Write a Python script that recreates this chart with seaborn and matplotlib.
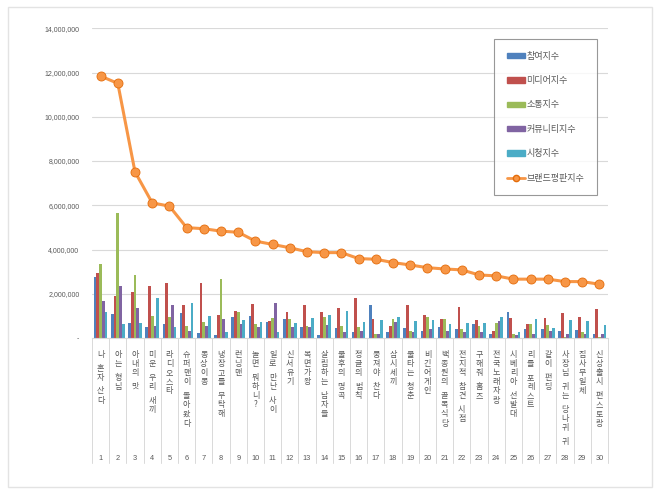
import numpy as np
import pandas as pd
import matplotlib
matplotlib.use("Agg")
import matplotlib.pyplot as plt
from matplotlib.patches import Patch, Rectangle
from matplotlib.lines import Line2D
from matplotlib.ticker import FuncFormatter
import seaborn as sns

# Programs, in rank order
SHOWS = [
    "나 혼자 산다", "아는 형님", "아내의 맛", "미운 우리 새끼", "라디오스타",
    "슈퍼맨이 돌아왔다", "동상이몽", "냉장고를 부탁해", "런닝맨", "놀면 뭐하니?",
    "일로 만난 사이", "신서유기", "복면가왕", "살림하는 남자들", "불후의 명곡",
    "정글의 법칙", "뭉쳐야 찬다", "삼시세끼", "불타는 청춘", "비긴어게인",
    "백종원의 골목식당", "전지적 참견 시점", "구해줘 홈즈", "전국노래자랑", "시베리아 선발대",
    "리틀 포레스트", "같이 펀딩", "사장님 귀는 당나귀 귀", "집사부일체", "신상출시 편스토랑",
]
RANKS = [str(i) for i in range(1, 31)]

SERIES = ["참여지수", "미디어지수", "소통지수", "커뮤니티지수", "시청지수"]
LINE_NAME = "브랜드평판지수"

participation = [2760000, 1100000, 660000, 510000, 630000, 1120000, 220000, 130000, 970000, 1000000,
                 730000, 860000, 480000, 130000, 440000, 260000, 1490000, 260000, 440000, 330000,
                 480000, 400000, 630000, 180000, 1160000, 400000, 400000, 330000, 360000, 180000]
media = [2960000, 1900000, 2100000, 2330000, 2480000, 1490000, 2480000, 1050000, 1200000, 1530000,
         780000, 1160000, 1500000, 1160000, 1340000, 1830000, 860000, 560000, 1500000, 1060000,
         860000, 1400000, 820000, 330000, 890000, 630000, 900000, 1140000, 930000, 1300000]
communication = [3360000, 5660000, 2840000, 1000000, 960000, 550000, 730000, 2660000, 1170000, 630000,
                 890000, 860000, 560000, 960000, 560000, 510000, 200000, 860000, 300000, 950000,
                 860000, 400000, 520000, 700000, 200000, 630000, 580000, 50000, 260000, 50000]
community = [1670000, 2330000, 1340000, 550000, 1500000, 300000, 550000, 840000, 630000, 480000,
             1580000, 480000, 480000, 590000, 290000, 320000, 180000, 730000, 260000, 400000,
             330000, 260000, 260000, 780000, 150000, 200000, 330000, 180000, 170000, 200000]
viewing = [1170000, 620000, 660000, 1800000, 480000, 1580000, 1000000, 270000, 800000, 730000,
           260000, 700000, 890000, 1040000, 1230000, 730000, 800000, 960000, 780000, 800000,
           630000, 700000, 700000, 960000, 260000, 860000, 440000, 800000, 780000, 580000]
brand = [11840000, 11510000, 7510000, 6110000, 5960000, 4990000, 4940000, 4830000, 4780000, 4380000,
         4230000, 4080000, 3900000, 3860000, 3860000, 3590000, 3560000, 3410000, 3300000, 3180000,
         3120000, 3080000, 2850000, 2810000, 2660000, 2660000, 2660000, 2550000, 2550000, 2430000]

BAR_COLORS = ["#4F81BD", "#C0504D", "#9BBB59", "#8064A2", "#4BACC6"]
LINE_COLOR = "#F79646"
GRID = "#D9D9D9"
TEXT = "#595959"

sns.set_theme(style="white")
plt.rcParams["font.family"] = ["Noto Sans CJK KR", "DejaVu Sans"]

bars = pd.DataFrame({
    "show": SHOWS * 5,
    "series": np.repeat(SERIES, len(SHOWS)),
    "value": participation + media + communication + community + viewing,
})
line = pd.DataFrame({"show": SHOWS, "value": brand})

fig = plt.figure(figsize=(6.6, 4.96), dpi=100)
ax = fig.add_axes([92 / 660, (496 - 338) / 496, 516 / 660, (338 - 28.3) / 496])

# outer chart border
fig.patches.append(Rectangle((8 / 660, 9 / 496), 644 / 660, 480 / 496, transform=fig.transFigure,
                             fill=False, edgecolor="#E3E3E3", linewidth=1.0))

sns.barplot(data=bars, x="show", y="value", hue="series", order=SHOWS, hue_order=SERIES,
            palette=BAR_COLORS, width=0.8, saturation=1, errorbar=None, legend=False,
            linewidth=0, ax=ax, zorder=2)
sns.pointplot(data=line, x="show", y="value", order=SHOWS, color=LINE_COLOR,
              marker="o", markersize=6.5, linewidth=2.2, markeredgecolor="#E46C0A",
              markeredgewidth=0.6, errorbar=None, ax=ax, zorder=4)

ax.set_xlim(-0.5, len(SHOWS) - 0.5)
ax.set_ylim(0, 14000000)
ax.set_yticks(np.arange(0, 14000001, 2000000))
ax.yaxis.set_major_formatter(FuncFormatter(lambda v, _: "-" if v == 0 else f"{v:,.0f}"))
ax.tick_params(axis="y", length=0, pad=9, labelsize=5, labelcolor=TEXT)
for t in ax.get_yticklabels():
    t.set_family(["Liberation Sans", "DejaVu Sans"])
ax.set_xticks([])
ax.set_xlabel("")
ax.set_ylabel("")
ax.grid(axis="y", color=GRID, linewidth=0.8, zorder=0)
ax.set_axisbelow(True)
for side in ["top", "right", "left"]:
    ax.spines[side].set_visible(False)
ax.spines["bottom"].set_color(GRID)
ax.spines["bottom"].set_linewidth(0.8)

# category separators spanning both label levels
trans = ax.get_xaxis_transform()
for b in np.arange(-0.5, len(SHOWS)):
    ax.plot([b, b], [0, -0.405], transform=trans, color=GRID, linewidth=0.7, clip_on=False)

# stacked vertical names + rank numbers
char_step, space_step = 6.6, 3.3
for i, name in enumerate(SHOWS):
    off = 8.5
    for ch in name:
        if ch == " ":
            off += space_step
            continue
        ax.annotate(ch, xy=(i, 0), xycoords=trans, xytext=(0, -off), textcoords="offset points",
                    ha="center", va="top", fontsize=5.8, color=TEXT)
        off += char_step
    ax.annotate(RANKS[i], xy=(i, 0), xycoords=trans, xytext=(0, -87), textcoords="offset points",
                ha="center", va="center", fontsize=5.3, color=TEXT,
                family=["Liberation Sans", "DejaVu Sans"])

handles = [Patch(facecolor=c, edgecolor=c) for c in BAR_COLORS]
handles.append(Line2D([], [], color=LINE_COLOR, linewidth=2, marker="o", markersize=4.5,
                      markeredgecolor="#E46C0A"))
leg = ax.legend(handles, SERIES + [LINE_NAME], loc="upper right", bbox_to_anchor=(0.978, 0.965),
                borderaxespad=0, fontsize=6.5, labelspacing=1.7, handlelength=2.0,
                handleheight=0.55, handletextpad=0.15, borderpad=1.4, frameon=True,
                fancybox=False, labelcolor=TEXT)
leg.get_frame().set_edgecolor("#7F7F7F")
leg.get_frame().set_linewidth(0.8)

fig.savefig("out.png", dpi=100)
